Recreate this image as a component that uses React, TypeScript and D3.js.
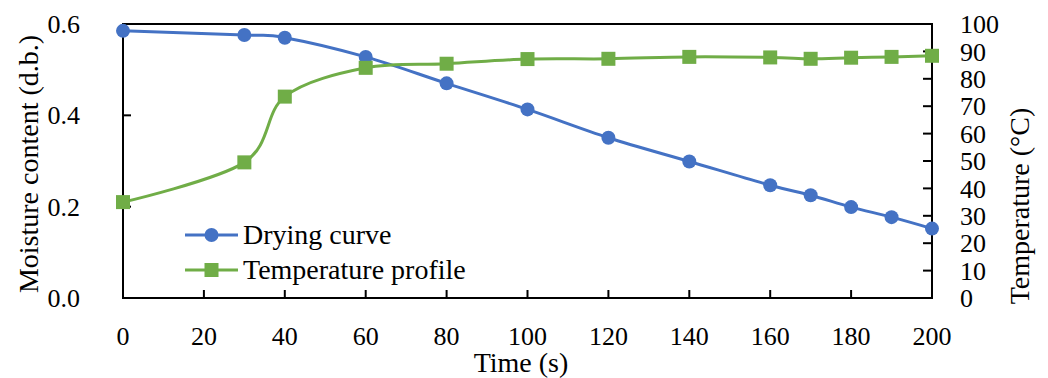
import React from "react";
import * as d3 from "d3";

// Drying experiment: moisture content (left axis) and product temperature (right axis)
const timeSeconds = [0, 30, 40, 60, 80, 100, 120, 140, 160, 170, 180, 190, 200];
const moistureContent = [0.585, 0.576, 0.57, 0.528, 0.47, 0.413, 0.351, 0.299, 0.247, 0.225, 0.199, 0.177, 0.152];
const temperatureC = [35, 49.5, 73.5, 84, 85.5, 87.2, 87.3, 88, 87.8, 87.3, 87.7, 88, 88.4];

const xTicks = [0, 20, 40, 60, 80, 100, 120, 140, 160, 180, 200];
const leftTicks = [0, 0.2, 0.4, 0.6];
const rightTicks = [0, 10, 20, 30, 40, 50, 60, 70, 80, 90, 100];

const seriesNames = ["Drying curve", "Temperature profile"];

const BLUE = "#4472C4";
const GREEN = "#70AD47";
const FONT = "'Liberation Serif', 'Times New Roman', serif";

const W = 1048;
const H = 378;
const plot = { left: 123, right: 932, top: 24, bottom: 298 };

export default function App() {
  const x = d3.scaleLinear().domain([0, 200]).range([plot.left, plot.right]);
  const yL = d3.scaleLinear().domain([0, 0.6]).range([plot.bottom, plot.top]);
  const yR = d3.scaleLinear().domain([0, 100]).range([plot.bottom, plot.top]);

  const moisturePts: [number, number][] = timeSeconds.map((t, i) => [x(t), yL(moistureContent[i])]);
  const tempPts: [number, number][] = timeSeconds.map((t, i) => [x(t), yR(temperatureC[i])]);

  const smooth = d3.line().curve(d3.curveCatmullRom.alpha(0));
  const tickFont = 26;
  const titleFont = 28;

  const legendX = 185;
  const legendY = [235, 270];

  return (
    <svg
      width={W}
      height={H}
      viewBox={`0 0 ${W} ${H}`}
      style={{ position: "absolute", left: 0, top: 0, display: "block", background: "#fff" }}
      fontFamily={FONT}
    >
      <rect x={0} y={0} width={W} height={H} fill="#fff" />

      {/* x ticks (inward) and labels */}
      {xTicks.map((t) => (
        <g key={`x${t}`}>
          {t > 0 && t < 200 && (
            <line x1={x(t)} x2={x(t)} y1={plot.bottom} y2={plot.bottom - 8} stroke="#000" strokeWidth={2} />
          )}
          <text x={x(t)} y={345} textAnchor="middle" fontSize={tickFont} fill="#000">
            {t}
          </text>
        </g>
      ))}

      {/* left ticks and labels */}
      {leftTicks.map((v) => (
        <g key={`l${v}`}>
          <line x1={plot.left} x2={plot.left + 8} y1={yL(v)} y2={yL(v)} stroke="#000" strokeWidth={2} />
          <text x={80} y={yL(v)} dy="0.35em" textAnchor="end" fontSize={tickFont} fill="#000">
            {v.toFixed(1)}
          </text>
        </g>
      ))}

      {/* right ticks and labels */}
      {rightTicks.map((v) => (
        <g key={`r${v}`}>
          <line x1={plot.right} x2={plot.right - 9} y1={yR(v)} y2={yR(v)} stroke="#000" strokeWidth={2} />
          <text x={960} y={yR(v)} dy="0.35em" textAnchor="start" fontSize={tickFont} fill="#000">
            {v}
          </text>
        </g>
      ))}

      {/* frame */}
      <rect
        x={plot.left}
        y={plot.top}
        width={plot.right - plot.left}
        height={plot.bottom - plot.top}
        fill="none"
        stroke="#000"
        strokeWidth={2}
      />

      {/* axis titles */}
      <text
        transform={`translate(28,${(plot.top + plot.bottom) / 2 + 3}) rotate(-90)`}
        textAnchor="middle"
        dy="0.35em"
        fontSize={titleFont}
        fill="#000"
      >
        Moisture content (d.b.)
      </text>
      <text
        transform={`translate(1019,206) rotate(-90)`}
        textAnchor="middle"
        dy="0.35em"
        fontSize={titleFont}
        fill="#000"
      >
        Temperature (°C)
      </text>
      <text x={521} y={372} textAnchor="middle" fontSize={titleFont} fill="#000">
        Time (s)
      </text>

      {/* drying curve */}
      <path d={smooth(moisturePts) ?? ""} fill="none" stroke={BLUE} strokeWidth={3} />
      {moisturePts.map(([px, py], i) => (
        <circle key={`m${i}`} cx={px} cy={py} r={7} fill={BLUE} />
      ))}

      {/* temperature profile */}
      <path d={smooth(tempPts) ?? ""} fill="none" stroke={GREEN} strokeWidth={3} />
      {tempPts.map(([px, py], i) => (
        <rect key={`t${i}`} x={px - 7} y={py - 7} width={14} height={14} fill={GREEN} />
      ))}

      {/* legend */}
      <g>
        <line x1={legendX} x2={legendX + 53} y1={legendY[0]} y2={legendY[0]} stroke={BLUE} strokeWidth={3} />
        <circle cx={legendX + 26.5} cy={legendY[0]} r={7} fill={BLUE} />
        <text x={243} y={legendY[0]} dy="0.32em" fontSize={titleFont} fill="#000">
          {seriesNames[0]}
        </text>
        <line x1={legendX} x2={legendX + 53} y1={legendY[1]} y2={legendY[1]} stroke={GREEN} strokeWidth={3} />
        <rect x={legendX + 26.5 - 7} y={legendY[1] - 7} width={14} height={14} fill={GREEN} />
        <text x={243} y={legendY[1]} dy="0.32em" fontSize={titleFont} fill="#000">
          {seriesNames[1]}
        </text>
      </g>
    </svg>
  );
}
